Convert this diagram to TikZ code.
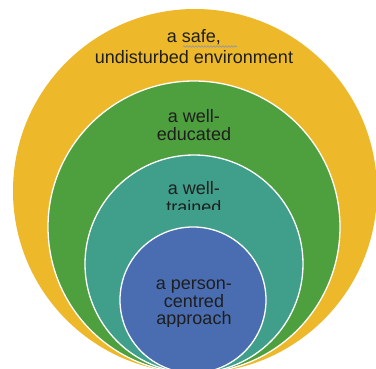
\documentclass[tikz,border=0pt]{standalone}
\usepackage{fontspec}
\setmainfont{Liberation Sans}
\usetikzlibrary{decorations.pathmorphing}
\definecolor{cyellow}{HTML}{EDB82A}
\definecolor{cgreen}{HTML}{4E9F3D}
\definecolor{cteal}{HTML}{3F9F8B}
\definecolor{cblue}{HTML}{4A6DB1}
\definecolor{ctext}{HTML}{1E1E1E}
\definecolor{csquig}{HTML}{8A94B4}
\tikzset{
  ring/.style={draw=white, line width=1.3pt},
  lbl/.style={anchor=base, inner sep=0pt, text=ctext, font=\fontsize{18}{18}\selectfont}
}
\begin{document}
\begin{tikzpicture}[x=1pt,y=-1pt]
\useasboundingbox[fill=white] (0,0) rectangle (376,369);
\begin{scope}
\clip (0,0) rectangle (376,369);
\fill[cyellow] (195,191) circle[radius=182];
\draw[ring, fill=cgreen] (194,227) circle[radius=146];
\draw[ring, fill=cteal] (194,264) circle[radius=109];
\draw[ring, fill=cblue] (193,300) circle[radius=73];
\end{scope}
% outer ring text
\node[lbl] (t1) at (194,43) {a safe,};
\node[lbl] (t2) at (194,64) {undisturbed environment};
\draw[csquig, line width=0.6pt, decorate, decoration={snake, amplitude=0.8pt, segment length=3pt}] (183,46.5) -- (237,46.5);
% green text
\node[lbl] (t3) at (194,123) {a well-};
\node[lbl] (t4) at (194,141) {educated};
% teal text
\node[lbl] (t5) at (194,195) {a well-};
\begin{scope}
\clip (100,198) rectangle (290,209.5);
\node[lbl] (t6) at (194,214) {trained};
\end{scope}
% blue text
\node[lbl] (t7) at (194,290) {a person-};
\node[lbl] (t8) at (194,308) {centred};
\begin{scope}
\clip (100,300) rectangle (290,327);
\node[lbl] (t9) at (194,325) {approach};
\end{scope}
\end{tikzpicture}
\end{document}
